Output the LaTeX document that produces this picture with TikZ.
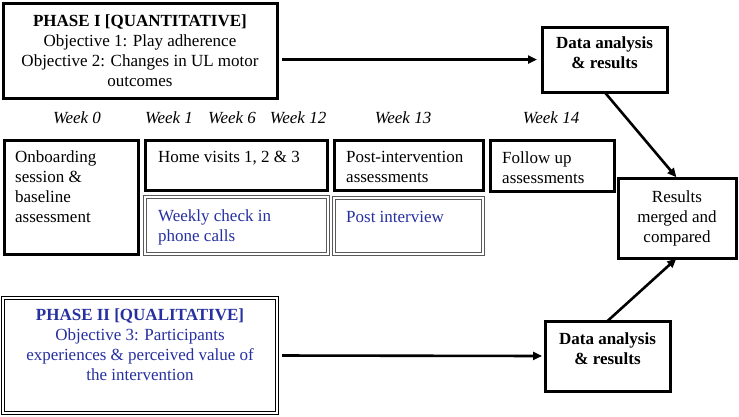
\documentclass[tikz,border=0pt]{standalone}
\usepackage{fontspec}
\setmainfont{Liberation Serif}
\usetikzlibrary{arrows.meta,calc}
\definecolor{qualblue}{RGB}{38,48,160}
\begin{document}
\begin{tikzpicture}[x=1pt,y=-1pt,
  boxbase/.style={rectangle, anchor=north west, inner sep=0pt, outer sep=0pt, fill=white},
  heavybox/.style={boxbase, draw=black, line width=3pt},
  greybox/.style={boxbase, draw=black!65, line width=1.4pt, double=white, double distance=1.6pt},
  thinbox/.style={boxbase, draw=black, line width=1pt, double=white, double distance=2pt},
  txt/.style={inner sep=0pt, font=\fontsize{17}{20}\selectfont},
  weeklbl/.style={txt, anchor=base, font=\fontsize{17}{20}\selectfont\itshape},
  flow/.style={line width=2.6pt, -{Triangle[length=9pt,width=8pt]}}
]
\useasboundingbox (0,0) rectangle (739,416);

% ---- Phase I and its analysis ----
\node[heavybox, minimum width=274pt, minimum height=95pt] (ph1) at (3,3) {};
\node[txt, align=center] (ph1t) at (ph1.center)
  {\textbf{PHASE I [QUANTITATIVE]}\\Objective 1: Play adherence\\Objective 2: Changes in UL motor\\outcomes};
\node[heavybox, minimum width=125pt, minimum height=65pt] (da1) at (542,27) {};
\node[txt, align=center, anchor=north] (da1t) at ($(da1.north)+(0,9.5)$) {\textbf{Data analysis}\\\textbf{\& results}};

% ---- Timeline labels ----
\node[weeklbl] (w0)  at (77,123.5)  {Week 0};
\node[weeklbl] (w1)  at (169,123.5) {Week 1};
\node[weeklbl] (w6)  at (232,123.5) {Week 6};
\node[weeklbl] (w12) at (298,123.5) {Week 12};
\node[weeklbl] (w13) at (403,123.5) {Week 13};
\node[weeklbl] (w14) at (551,123.5) {Week 14};

% ---- Study activities ----
\node[heavybox, minimum width=134pt, minimum height=114pt] (onb) at (4,140) {};
\node[txt, align=left, anchor=north west] (onbt) at (15,150.5) {Onboarding\\session \&\\baseline\\assessment};

\node[heavybox, minimum width=182pt, minimum height=50pt] (hv) at (145,140) {};
\node[txt, align=left, anchor=north west] (hvt) at (158,150.5) {Home visits 1, 2 \& 3};

\node[greybox, minimum width=183pt, minimum height=57pt] (wc) at (145,197) {};
\node[txt, align=left, anchor=north west, text=qualblue] (wct) at (158,209.5) {Weekly check in\\phone calls};

\node[heavybox, minimum width=149pt, minimum height=50pt] (pi) at (334,140) {};
\node[txt, align=left, anchor=north west] (pit) at (346,151.5) {Post-intervention\\assessments};

\node[greybox, minimum width=149pt, minimum height=56pt] (pint) at (334,198) {};
\node[txt, align=left, anchor=north west, text=qualblue] (pintt) at (346,211.5) {Post interview};

\node[heavybox, minimum width=124pt, minimum height=51pt] (fu) at (490,140) {};
\node[txt, align=left, anchor=north west] (fut) at (502,151.5) {Follow up\\assessments};

% ---- Merged results ----
\node[heavybox, minimum width=118pt, minimum height=80pt] (res) at (618,178) {};
\node[txt, align=center, anchor=north] (rest) at ($(res.north)+(0,12.5)$) {Results\\merged and\\compared};

% ---- Phase II and its analysis ----
\node[thinbox, minimum width=274pt, minimum height=115pt] (ph2) at (3,298) {};
\node[txt, align=center, anchor=north, text=qualblue] (ph2t) at (140,308.5)
  {\textbf{PHASE II [QUALITATIVE]}\\Objective 3: Participants\\experiences \& perceived value of\\the intervention};
\node[heavybox, minimum width=125pt, minimum height=70pt] (da2) at (545,321) {};
\node[txt, align=center, anchor=north] (da2t) at ($(da2.north)+(0,11.5)$) {\textbf{Data analysis}\\\textbf{\& results}};

% ---- Connectors ----
\draw[flow, shorten <=5pt, shorten >=5pt] (da1.west -| ph1.east) -- (da1.west);
\draw[flow, shorten >=1pt] (da1.south) -- (res.north);
\draw[flow, shorten <=5pt, shorten >=3pt] (ph2.east) -- (da2.west);
\draw[flow, shorten >=1pt] (da2.north) -- (res.south);
\end{tikzpicture}
\end{document}
